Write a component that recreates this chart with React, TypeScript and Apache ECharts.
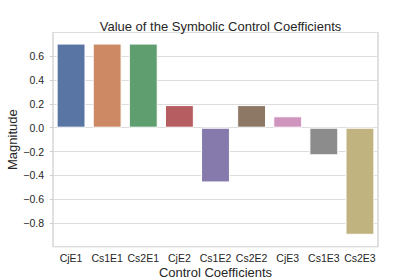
import React, { useEffect, useRef } from "react";
import * as echarts from "echarts";

const categories = ["CjE1", "Cs1E1", "Cs2E1", "CjE2", "Cs1E2", "Cs2E2", "CjE3", "Cs1E3", "Cs2E3"];
const values = [0.707, 0.707, 0.707, 0.19, -0.46, 0.19, 0.096, -0.232, -0.9];
const colors = ["#5975a4", "#cc8963", "#5f9e6e", "#b55d60", "#857aab", "#8d7866", "#d095bf", "#8c8c8c", "#c1b37f"];
const yTicks = [-1.0, -0.8, -0.6, -0.4, -0.2, 0.0, 0.2, 0.4, 0.6, 0.8];

export default function App() {
  const ref = useRef<HTMLDivElement>(null);
  useEffect(() => {
    if (!ref.current) return;
    const chart = echarts.init(ref.current, null, { renderer: "svg" });
    const font = "'Liberation Sans', Arial, sans-serif";
    chart.setOption({
      animation: false,
      backgroundColor: "#ffffff",
      title: {
        text: "Value of the Symbolic Control Coefficients",
        left: 215.5,
        textAlign: "center",
        top: 15,
        textStyle: { fontFamily: font, fontSize: 13, fontWeight: "normal", color: "#262626" },
      },
      grid: {
        left: 53,
        right: 42,
        top: 32.5,
        bottom: 33.3,
        show: true,
        borderColor: "#cccccc",
        borderWidth: 1.2,
        backgroundColor: "transparent",
        containLabel: false,
        outerBoundsMode: "none",
      },
      xAxis: {
        type: "category",
        data: categories,
        name: "Control Coefficients",
        nameLocation: "middle",
        nameGap: 19,
        nameMoveOverlap: false,
        nameTextStyle: { fontFamily: font, fontSize: 13, color: "#262626", lineHeight: 13 },
        axisLine: { show: false },
        axisTick: { show: false },
        axisLabel: { fontFamily: font, fontSize: 10.5, color: "#262626", margin: 6, interval: 0 },
        splitLine: { show: false },
      },
      yAxis: {
        type: "value",
        min: yTicks[0],
        max: yTicks[yTicks.length - 1],
        interval: 0.2,
        name: "Magnitude",
        nameLocation: "middle",
        nameGap: 34,
        nameMoveOverlap: false,
        nameTextStyle: { fontFamily: font, fontSize: 13, color: "#262626", lineHeight: 13 },
        axisLine: { show: false },
        axisTick: { show: true, length: 3, lineStyle: { color: "#cccccc" } },
        axisLabel: {
          fontFamily: font,
          fontSize: 10.5,
          color: "#262626",
          margin: 9,
          showMinLabel: false,
          showMaxLabel: false,
          formatter: (v: number) => v.toFixed(1).replace("-", "\u2212"),
        },
        splitLine: { show: true, lineStyle: { color: "#dddddd", width: 1 } },
      },
      series: [
        {
          type: "bar",
          data: values.map((v, i) => ({ value: v, itemStyle: { color: colors[i] } })),
          barCategoryGap: "20%",
          itemStyle: { borderColor: "#ffffff", borderWidth: 1 },
        },
      ],
    });
    return () => chart.dispose();
  }, []);
  return <div ref={ref} style={{ width: 420, height: 280, position: "absolute", left: 0, top: 0 }} />;
}
